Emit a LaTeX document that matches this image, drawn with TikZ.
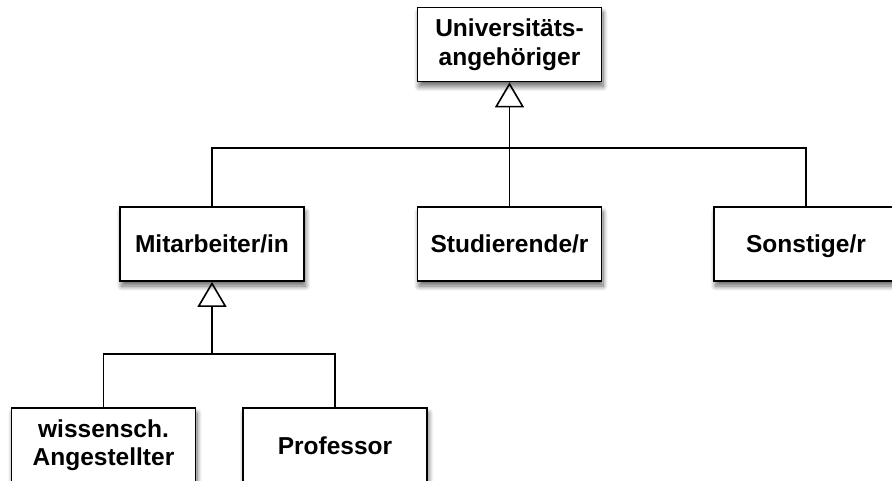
\documentclass[tikz,border=0pt]{standalone}
\usepackage{fontspec}
\setmainfont{Liberation Sans}
\usetikzlibrary{arrows.meta,shadows.blur}
\begin{document}
\begin{tikzpicture}[x=1pt,y=-1pt,
  classbox/.style={draw=black, fill=white, line width=1.8pt, minimum width=184pt, minimum height=74pt,
    inner sep=0pt, align=center, font=\fontsize{24.5}{28.5}\selectfont\bfseries,
    blur shadow={shadow xshift=1.5pt, shadow yshift=-5pt, shadow blur steps=10, shadow blur radius=5pt, shadow opacity=60}},
  oneline/.style={text height=20pt, text depth=2pt},
  conn/.style={line width=1.6pt, draw=black},
  gen/.style={conn, -{Triangle[open, length=25pt, width=29pt, line width=1.6pt]}}]
\useasboundingbox (0,0) rectangle (892,481);
\clip (0,0) rectangle (892,481);
\node[classbox] (uni) at (509.5,44.5) {Universitäts-\\angehöriger};
\node[classbox, oneline] (mit) at (212,244) {Mitarbeiter/in};
\node[classbox, oneline] (stu) at (509.5,244) {Studierende/r};
\node[classbox, oneline] (son) at (806,244) {Sonstige/r};
\node[classbox] (wis) at (103.5,445) {wissensch.\\Angestellter};
\node[classbox, oneline] (pro) at (335,445) {Professor};
\coordinate (j1) at (509.5,148);
\coordinate (j2) at (212,354);
\draw[conn] (stu.north) -- (j1);
\draw[gen] (j1) -- (uni.south);
\draw[conn] (mit.north) |- (j1) -| (son.north);
\draw[gen] (j2) -- (mit.south);
\draw[conn] (wis.north) |- (j2) -| (pro.north);
\end{tikzpicture}
\end{document}
